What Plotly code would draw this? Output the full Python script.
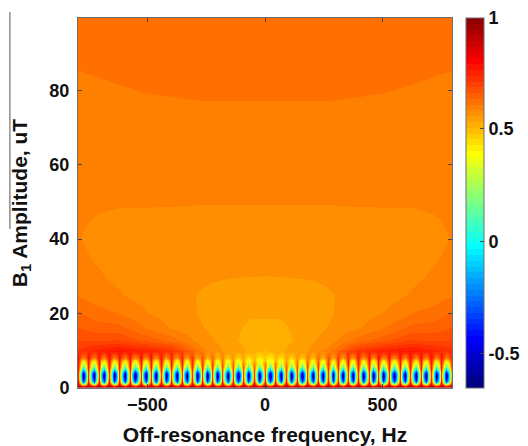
import plotly.graph_objects as go

# Upper field (B1 from 10 to 99.4 uT); rows run from the left edge to the centre
upper_freq = [-795, -723, -626, -511, -400, -272, -170, -115, -60, 0, 60, 115, 170, 272, 400, 511, 626, 723, 795]
upper_amp = [10, 13, 16, 20, 25, 30, 35, 40, 50, 60, 70, 80, 90, 99.4]
half_10 = [.715, .74, .77, .75, .72, .59, .55, .54, .52, .50]
half_13 = [.68, .68, .683, .65, .62, .565, .545, .528, .515, .51]
half_16 = [.658, .645, .642, .606, .578, .556, .542, .531, .522, .52]
half_20 = [.636, .618, .607, .583, .567, .552, .54, .535, .532, .532]
half_25 = [.603, .592, .583, .568, .559, .553, .545, .543, .542, .542]
half_30 = [.592, .584, .574, .56, .558, .557, .556, .555, .5545, .554]
half_35 = [.585, .578, .569, .563, .56, .559, .558, .557, .557, .557]
half_40 = [.581, .574, .568, .566, .564, .563, .562, .561, .56, .56]
half_50 = [.584, .583, .582, .582, .582, .581, .581, .581, .581, .581]
half_60 = [.59, .59, .59, .59, .59, .59, .59, .59, .59, .59]
half_70 = [.595, .596, .597, .598, .598, .599, .599, .599, .599, .599]
half_80 = [.60, .602, .604, .606, .607, .608, .608, .608, .608, .608]
half_90 = [.61, .611, .613, .615, .617, .618, .619, .62, .62, .62]
half_99 = [.615, .616, .618, .622, .625, .627, .628, .629, .63, .63]
upper_rows = [half_10, half_13, half_16, half_20, half_25, half_30, half_35,
              half_40, half_50, half_60, half_70, half_80, half_90, half_99]

# Oscillation lobes near the bottom of the map
lobe_freq = [-773, -729, -685, -641, -597, -552, -506, -464, -420, -376, -332, -287, -245, -203, -159, -115, -71, -24,
             21, 67, 112, 157, 203, 246, 289, 331, 373, 418, 461, 503, 549, 594, 640, 684, 728, 770]
gap_freq = [-795, -751, -707, -663, -619, -575, -529, -485, -442, -398, -354, -310, -266, -224, -181, -137, -93, -48, -2,
            44, 90, 135, 180, 225, 268, 310, 352, 396, 440, 482, 526, 572, 617, 662, 706, 749, 795]
lower_amp = [0, .5, 1, 1.5, 2, 3.2, 4.2, 5, 5.8, 6.6, 7.4, 8.2, 10, 10.02]
lobe_low = [.9, .75, .35, -.1, -.45, -.62, -.5, -.12, .12, .26]
side_low = [.93, .85, .6, .32, .05, -.05, -.02, .2, .35, .44]
gap_low = [.97, .92, .86, .80, .76, .71, .72]
gap_5 = [.75, .75, .75, .75, .75, .75, .75, .75, .75, .74, .74, .73, .72, .71, .70, .69, .68, .67, .66]
gap_58 = [.77, .77, .77, .77, .77, .77, .77, .77, .76, .76, .75, .74, .73, .72, .70, .68, .66, .65, .64]
gap_66 = [.78, .78, .78, .78, .78, .78, .78, .78, .78, .77, .76, .75, .73, .70, .66, .63, .60, .59, .58]
gap_74 = [.78, .78, .78, .78, .78, .78, .78, .78, .78, .77, .76, .74, .70, .66, .62, .58, .55, .52, .50]
gap_82 = [.77, .78, .78, .78, .78, .78, .78, .78, .77, .76, .74, .71, .67, .63, .60, .56, .53, .50, .48]
gap_10 = [.715, .73, .745, .76, .77, .76, .755, .745, .73, .72, .69, .64, .59, .57, .552, .545, .535, .52, .50]
lobe_74 = [.42, .42, .42, .42, .42, .41, .41, .40, .40, .39, .39, .38, .38, .37, .36, .35, .34, .33]
lobe_82 = [.60, .60, .60, .60, .60, .59, .59, .58, .57, .56, .55, .54, .52, .50, .48, .46, .44, .42]
lobe_10 = [.722, .737, .752, .765, .765, .757, .75, .737, .725, .705, .665, .615, .58, .56, .548, .54, .527, .51]
side_74 = [.52, .52, .52, .52, .52, .51, .51, .50, .50, .49, .49, .48, .47, .46, .44, .43, .41, .40]
side_82 = [.66, .66, .66, .66, .66, .65, .65, .64, .63, .62, .61, .59, .56, .54, .52, .49, .47, .45]

cb_ticks = [.99, .5, 0, -.5]
cb_labels = ["1", "0.5", "0", "-0.5"]
x_ticks = [-500, 0, 500]
y_ticks = [0, 20, 40, 60, 80]
zmin, zmax = -.651, .99


def jet(t):
    c = lambda v: int(round(255 * max(0, min(1, v))))
    return f"rgb({c(min(4*t-1.5, 4.5-4*t))},{c(min(4*t-.5, 3.5-4*t))},{c(min(4*t+.5, 2.5-4*t))})"


scale = []
for k in range(64):
    col = jet(k / 64)
    scale += [[k / 64, col], [(k + 1) / 64, col]]


def mirror_gap(h):
    return h + h[-2::-1]


def mirror_lobe(h):
    return h + h[::-1]


lobe_cols = [[v] * 36 for v in lobe_low] + [mirror_lobe(r) for r in (lobe_74, lobe_82, lobe_10, lobe_10)]
side_cols = [[v] * 36 for v in side_low] + [mirror_lobe(r) for r in (side_74, side_82, lobe_10, lobe_10)]
gap_cols = [[v] * 37 for v in gap_low] + [mirror_gap(r) for r in (gap_5, gap_58, gap_66, gap_74, gap_82, gap_10, gap_10)]

n_rows = len(lower_amp)
lower_freq = []
lower_rows = [[] for _ in range(n_rows)]


def add_column(freq, source, i):
    lower_freq.append(freq)
    for r in range(n_rows):
        lower_rows[r].append(source[r][i])


for i in range(37):
    add_column(gap_freq[i], gap_cols, i)
    if i < 36:
        add_column((gap_freq[i] + lobe_freq[i]) / 2, side_cols, i)
        add_column(lobe_freq[i], lobe_cols, i)
        add_column((gap_freq[i + 1] + lobe_freq[i]) / 2, side_cols, i)

upper_z = [h + h[-2::-1] for h in upper_rows]

family = "Liberation Sans, Arial, sans-serif"
tick_font = dict(family=family, size=18, color="#111111", weight="bold")
title_font = dict(family=family, size=21, color="#111111", weight="bold")

fig = go.Figure()
fig.add_trace(go.Heatmap(x=upper_freq, y=upper_amp, z=upper_z, coloraxis="coloraxis", zsmooth="best"))
fig.add_trace(go.Heatmap(x=lower_freq, y=lower_amp, z=lower_rows, coloraxis="coloraxis", zsmooth="best"))

axis = dict(showgrid=False, zeroline=False, mirror="ticks", showline=True, linecolor="#6e6e6e", linewidth=1,
            ticks="inside", ticklen=4, tickcolor="#444444", tickfont=tick_font, automargin=False)

bar_x0 = (466 - 78) / 374
shapes = [dict(type="line", xref="paper", yref="paper", x0=-.182, x1=-.182, y0=.43, y1=1.016,
               line=dict(color="#555555", width=1))]
for v in cb_ticks[1:]:
    p = (v - zmin) / (zmax - zmin)
    shapes.append(dict(type="line", xref="paper", yref="paper", x0=bar_x0, x1=bar_x0 + 4 / 374, y0=p, y1=p,
                       line=dict(color="#444444", width=1)))

fig.update_layout(
    width=534, height=438,
    margin=dict(l=70, r=90, t=10, b=58),
    paper_bgcolor="white", plot_bgcolor="white",
    coloraxis=dict(
        colorscale=scale, cmin=zmin, cmax=zmax,
        colorbar=dict(x=bar_x0, xanchor="left", xpad=0, y=.5, yanchor="middle", ypad=0, len=1, lenmode="fraction",
                      thickness=18, thicknessmode="pixels", outlinecolor="#6e6e6e", outlinewidth=1,
                      tickmode="array", tickvals=cb_ticks, ticktext=cb_labels, ticks="inside", ticklen=4,
                      tickcolor="#444444", tickfont=tick_font),
    ),
    xaxis=dict(axis, range=[-795, 795], tickvals=x_ticks, ticklabelstandoff=0,
               title=dict(text="Off-resonance frequency, Hz", standoff=19, font=title_font)),
    yaxis=dict(axis, range=[0, 99.4], tickvals=y_ticks, ticklabelstandoff=4,
               title=dict(text="B<sub>1</sub> Amplitude, uT", standoff=17, font=title_font)),
    shapes=shapes,
)
fig.write_html("out.html", post_script="document.documentElement.style.overflow='hidden';")
